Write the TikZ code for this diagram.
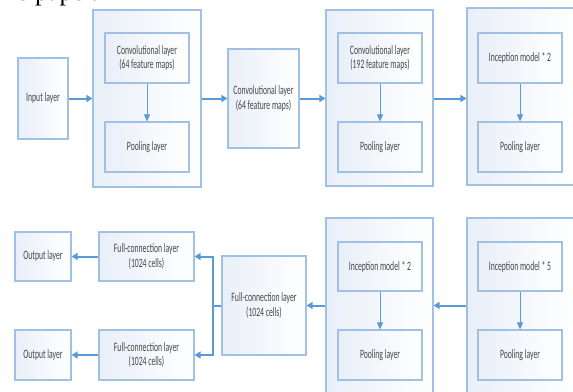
\documentclass[tikz,border=0pt]{standalone}
\usepackage{fontspec}
\setmainfont{Carlito}[FakeStretch=0.6]
\newfontfamily\bodyfont{Liberation Serif}
\usetikzlibrary{arrows.meta}
\definecolor{bordc}{RGB}{160,192,228}
\definecolor{fillc}{RGB}{233,239,248}
\definecolor{arrc}{RGB}{91,155,213}
\definecolor{txtc}{RGB}{70,70,70}
\tikzset{
  lay/.style={draw=bordc, line width=1.1pt, left color=fillc, right color=white,
    inner sep=0pt, align=center, text=txtc, font=\fontsize{12.8}{14.5}\selectfont},
  grp/.style={draw=bordc, line width=1.1pt, left color=fillc, right color=white, inner sep=0pt},
  mainarr/.style={draw=arrc, line width=2pt, -{Triangle[length=6pt,width=7pt]}},
  innarr/.style={draw=arrc, line width=0.9pt, -{Triangle[length=7pt,width=6pt]}},
}
\begin{document}
\begin{tikzpicture}[x=1pt,y=-1pt]
\useasboundingbox (0,0) rectangle (573,391);
% fragment of body text
\node[anchor=base east, inner sep=0pt, font=\bodyfont\fontsize{26}{26}\selectfont, text=black] (para) at (98,0) {this paper.};
% group boxes
\node[grp, minimum width=108pt, minimum height=177pt] (B1) at (147,98.5) {};
\node[grp, minimum width=107pt, minimum height=176pt] (B2) at (379.5,98) {};
\node[grp, minimum width=109pt, minimum height=177pt] (B3) at (521.5,96.5) {};
\node[grp, minimum width=107pt, minimum height=177pt] (B4) at (379.5,306.5) {};
\node[grp, minimum width=109pt, minimum height=177pt] (B5) at (521.5,306.5) {};
% top row
\node[lay, minimum width=50pt, minimum height=81pt] (in) at (43,98.5) {Input layer};
\node[lay, minimum width=84pt, minimum height=50pt] (c1) at (147,58) {Convolutional layer\\(64 feature maps)};
\node[lay, minimum width=84pt, minimum height=50pt] (p1) at (147,147) {Pooling layer};
\node[lay, minimum width=71pt, minimum height=99pt] (c2) at (263.5,98.5) {Convolutional layer\\(64 feature maps)};
\node[lay, minimum width=84pt, minimum height=50pt] (c3) at (380,58) {Convolutional layer\\(192 feature maps)};
\node[lay, minimum width=84pt, minimum height=50pt] (p3) at (380,147) {Pooling layer};
\node[lay, minimum width=84pt, minimum height=50pt] (c4) at (520,58) {Inception model * 2};
\node[lay, minimum width=84pt, minimum height=50pt] (p4) at (520,147) {Pooling layer};
% bottom row
\node[lay, minimum width=84pt, minimum height=49pt] (i5) at (520,266.5) {Inception model * 5};
\node[lay, minimum width=84pt, minimum height=50pt] (p5) at (520,355) {Pooling layer};
\node[lay, minimum width=84pt, minimum height=49pt] (i4) at (380,266.5) {Inception model * 2};
\node[lay, minimum width=84pt, minimum height=50pt] (p6) at (380,355) {Pooling layer};
\node[lay, minimum width=84pt, minimum height=99pt] (fcm) at (264,305.5) {Full-connection layer\\(1024 cells)};
\node[lay, minimum width=95pt, minimum height=49pt] (fct) at (146.5,256.5) {Full-connection layer\\(1024 cells)};
\node[lay, minimum width=95pt, minimum height=50pt] (fcb) at (146.5,355) {Full-connection layer\\(1024 cells)};
\node[lay, minimum width=56pt, minimum height=49pt] (o1) at (43,256.5) {Output layer};
\node[lay, minimum width=56pt, minimum height=50pt] (o2) at (43,355) {Output layer};
% arrows top
\draw[mainarr] (in.east) -- (B1.west |- in.east);
\draw[mainarr] (B1.east |- c2.west) -- (c2.west);
\draw[mainarr] (c2.east) -- (B2.west |- c2.east);
\draw[mainarr] (B2.east |- c2.east) -- (B3.west |- c2.east);
\draw[innarr] (c1.south) -- (p1.north);
\draw[innarr] (c3.south) -- (p3.north);
\draw[innarr] (c4.south) -- (p4.north);
% arrows bottom
\draw[innarr] (i5.south) -- (p5.north);
\draw[innarr] (i4.south) -- (p6.north);
\draw[mainarr] (B5.west |- fcm.east) -- (B4.east |- fcm.east);
\draw[mainarr] (B4.west |- fcm.east) -- (fcm.east);
\coordinate (split) at (213,305.5);
\draw[draw=arrc, line width=2pt] (fcm.west) -- (split);
\draw[mainarr] (split) |- (fct.east);
\draw[mainarr] (split) |- (fcb.east);
\draw[mainarr] (fct.west) -- (o1.east);
\draw[mainarr] (fcb.west) -- (o2.east);
\end{tikzpicture}
\end{document}
